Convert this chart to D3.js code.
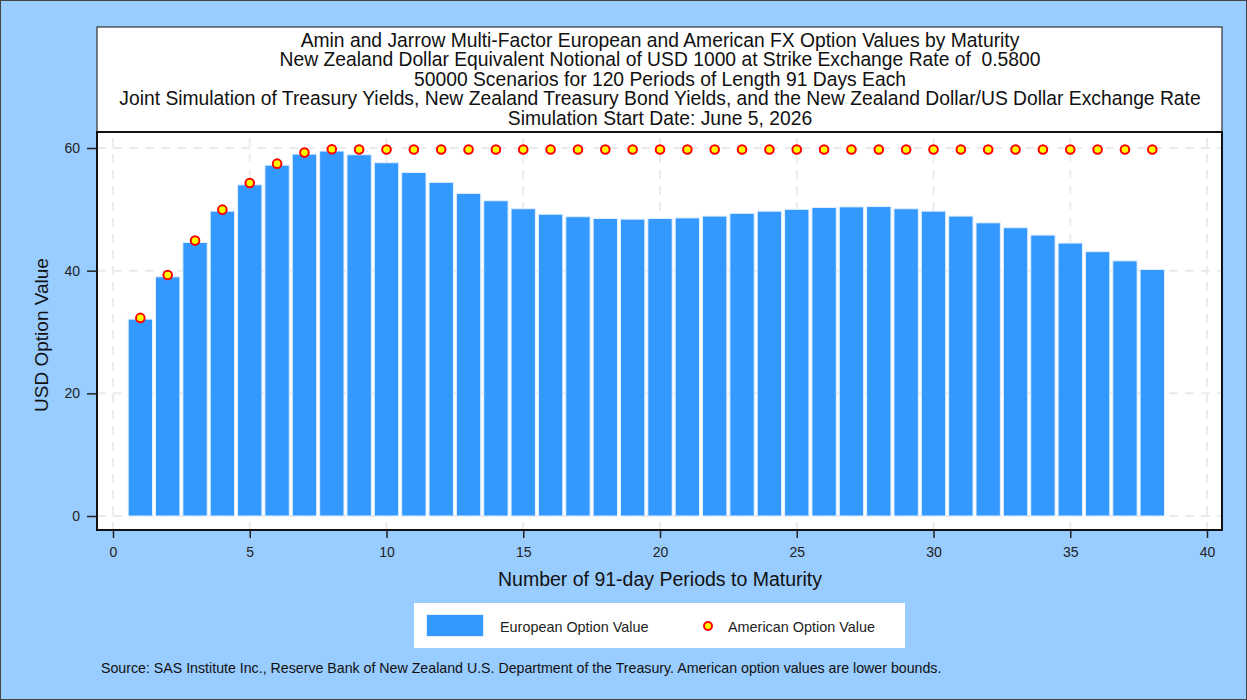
<!DOCTYPE html>
<html>
<head>
<meta charset="utf-8">
<script src="https://cdn.jsdelivr.net/npm/d3@7"></script>
<style>
  body { margin: 0; background: #99ccff; }
  svg { display: block; font-family: "Liberation Sans", Arial, sans-serif; }
</style>
</head>
<body>
<svg id="chart"></svg>
<script>
// periods to maturity (91-day periods)
let periods = d3.range(1, 39)
// European option values (bars)
let european = [32.1, 39.0, 44.6, 49.7, 54.0, 57.2, 59.0, 59.5, 58.9, 57.6,
    56.0, 54.4, 52.6, 51.4, 50.1, 49.2, 48.8, 48.5, 48.4, 48.5,
    48.6, 48.9, 49.35, 49.7, 50.0, 50.3, 50.4, 50.45, 50.1, 49.7,
    48.9, 47.8, 47.0, 45.8, 44.5, 43.1, 41.6, 40.2]
// American option values (markers, lower bounds)
let american = [32.3, 39.3, 44.9, 49.95, 54.3, 57.45, 59.25, 59.8, 59.75, 59.75,
    59.75, 59.75, 59.75, 59.75, 59.75, 59.75, 59.75, 59.75, 59.75, 59.75,
    59.75, 59.75, 59.75, 59.75, 59.75, 59.75, 59.75, 59.75, 59.75, 59.75,
    59.75, 59.75, 59.75, 59.75, 59.75, 59.75, 59.75, 59.75]
let xTicks = [0, 5, 10, 15, 20, 25, 30, 35, 40]
let yTicks = [0, 20, 40, 60]
let titleLines = [
    "Amin and Jarrow Multi-Factor European and American FX Option Values by Maturity",
    "New Zealand Dollar Equivalent Notional of USD 1000 at Strike Exchange Rate of  0.5800",
    "50000 Scenarios for 120 Periods of Length 91 Days Each",
    "Joint Simulation of Treasury Yields, New Zealand Treasury Bond Yields, and the New Zealand Dollar/US Dollar Exchange Rate",
    "Simulation Start Date: June 5, 2026"
]

let width = 1247, height = 700
let svg = d3.select('#chart').attr('width', width).attr('height', height)

svg.append('rect').attr('x', 0.5).attr('y', 0.5).attr('width', width - 1).attr('height', height - 1)
    .attr('fill', '#99ccff').attr('stroke', '#444')

// plot box
let box = { left: 97, right: 1222, top: 132, bottom: 530 }
let x = d3.scaleLinear().domain([0, 40]).range([113, 1207])
let y = d3.scaleLinear().domain([0, 60]).range([516, 148])

// title box
svg.append('rect').attr('x', box.left).attr('y', 27).attr('width', box.right - box.left).attr('height', box.top - 27)
    .attr('fill', 'white').attr('stroke', '#333').attr('stroke-width', 1.2)
svg.selectAll('.title').data(titleLines).enter().append('text')
    .attr('x', 660).attr('y', (d, i) => 46.5 + i * 19.5)
    .attr('text-anchor', 'middle').attr('font-size', 19.3).attr('fill', '#111')
    .style('white-space', 'pre')
    .text(d => d)

svg.append('rect').attr('x', box.left).attr('y', box.top).attr('width', box.right - box.left).attr('height', box.bottom - box.top)
    .attr('fill', 'white')

// grid
let grid = svg.append('g').attr('stroke', '#ebebeb').attr('stroke-width', 2).attr('stroke-dasharray', '9,7')
grid.selectAll('.gx').data(xTicks).enter().append('line')
    .attr('x1', d => x(d)).attr('x2', d => x(d)).attr('y1', box.top + 6).attr('y2', box.bottom)
grid.selectAll('.gy').data(yTicks).enter().append('line')
    .attr('y1', d => y(d)).attr('y2', d => y(d)).attr('x1', box.left).attr('x2', box.right)

// bars
let barW = (x(1) - x(0)) * 0.89
svg.selectAll('.bar').data(european).enter().append('rect')
    .attr('x', (d, i) => x(periods[i]) - barW / 2)
    .attr('y', d => y(d))
    .attr('width', barW)
    .attr('height', d => y(0) - y(d))
    .attr('fill', '#3399ff').attr('stroke', '#e3efff').attr('stroke-width', 1)

// markers
svg.selectAll('.dot').data(american).enter().append('circle')
    .attr('cx', (d, i) => x(periods[i])).attr('cy', d => y(d)).attr('r', 4.3)
    .attr('fill', '#ffff00').attr('stroke', '#ff0000').attr('stroke-width', 2)

// frame lines
svg.append('rect').attr('x', box.left).attr('y', box.top).attr('width', box.right - box.left).attr('height', box.bottom - box.top)
    .attr('fill', 'none').attr('stroke', '#111').attr('stroke-width', 2)

// axes
let yAxis = svg.append('g').attr('transform', `translate(${box.left},0)`)
    .call(d3.axisLeft(y).tickValues(yTicks).tickSize(10).tickPadding(7))
let xAxis = svg.append('g').attr('transform', `translate(0,${box.bottom})`)
    .call(d3.axisBottom(x).tickValues(xTicks).tickSize(8).tickPadding(9))
;[xAxis, yAxis].forEach(a => {
    a.select('.domain').remove()
    a.selectAll('.tick line').attr('stroke', '#222').attr('stroke-width', 1.5)
    a.selectAll('.tick text').attr('font-size', 14).attr('fill', '#222')
        .attr('font-family', '"Liberation Sans", Arial, sans-serif')
})

svg.append('text').attr('x', 660).attr('y', 586).attr('text-anchor', 'middle')
    .attr('font-size', 19.5).attr('fill', '#111').text('Number of 91-day Periods to Maturity')
svg.append('text').attr('transform', 'translate(48,335) rotate(-90)').attr('text-anchor', 'middle')
    .attr('font-size', 19).attr('fill', '#111').text('USD Option Value')

// legend
let lg = svg.append('g')
lg.append('rect').attr('x', 414).attr('y', 603).attr('width', 491).attr('height', 45).attr('fill', 'white')
lg.append('rect').attr('x', 426.5).attr('y', 614.5).attr('width', 57).attr('height', 22)
    .attr('fill', '#3399ff').attr('stroke', '#e3efff')
lg.append('text').attr('x', 500).attr('y', 631.5).attr('font-size', 14.4).attr('fill', '#222').text('European Option Value')
lg.append('circle').attr('cx', 708).attr('cy', 626).attr('r', 4).attr('fill', '#ffff00').attr('stroke', '#ff0000').attr('stroke-width', 2)
lg.append('text').attr('x', 728).attr('y', 631.5).attr('font-size', 14.4).attr('fill', '#222').text('American Option Value')

svg.append('text').attr('x', 101).attr('y', 673).attr('font-size', 14.2).attr('fill', '#111')
    .text('Source: SAS Institute Inc., Reserve Bank of New Zealand U.S. Department of the Treasury. American option values are lower bounds.')
</script>
</body>
</html>
